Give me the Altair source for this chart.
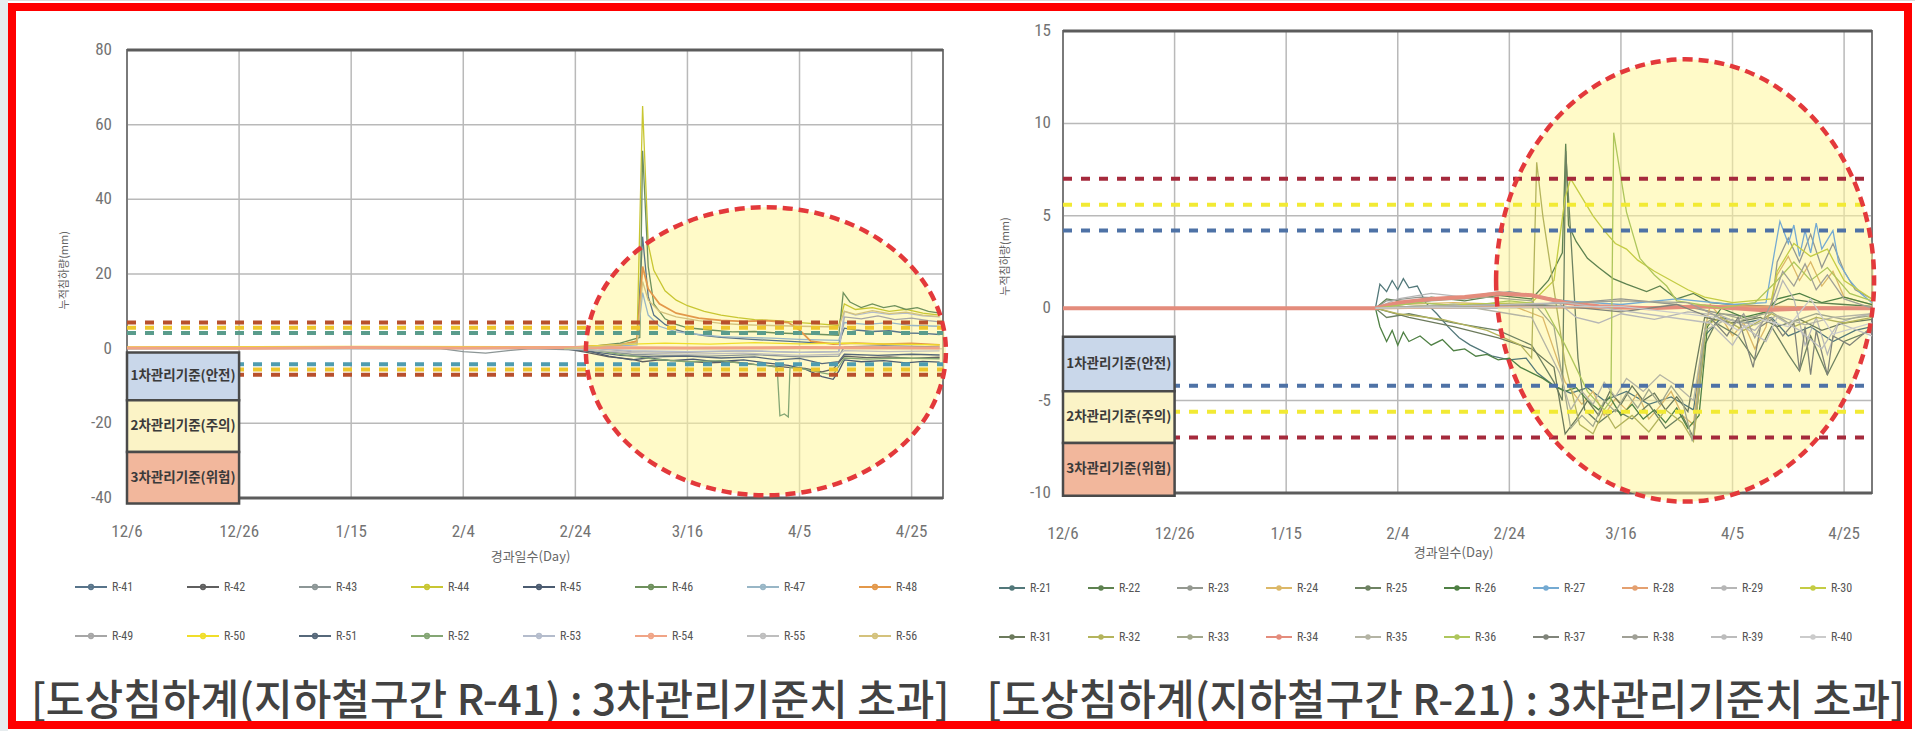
import altair as alt
import pandas as pd

NARROW = "Liberation Sans Narrow, Arial Narrow, Roboto Condensed, DejaVu Sans Condensed, Liberation Sans, sans-serif"
KR = "Noto Sans CJK KR, Noto Sans, sans-serif"

# ---------------- common ----------------
TICK_DAYS = [0, 20, 40, 60, 80, 100, 120, 140]
TICK_LABELS = ["12/6", "12/26", "1/15", "2/4", "2/24", "3/16", "4/5", "4/25"]
BOX_LABELS = ["1차관리기준(안전)", "2차관리기준(주의)", "3차관리기준(위험)"]
BOX_FILLS = ["#c9d7ea", "#fbf3c6", "#f2b79c"]
LIMITS = [7.0, 5.6, 4.2, -4.2, -5.6, -7.0]
X_TITLE = "경과일수(Day)"
Y_TITLE = "누적침하량(mm)"

# ---------------- left panel: R-41 .. R-56 ----------------
L_NAMES = ["R-41", "R-42", "R-43", "R-44", "R-45", "R-46", "R-47", "R-48",
           "R-49", "R-50", "R-51", "R-52", "R-53", "R-54", "R-55", "R-56"]
L_COLORS = ["#58748a", "#5f5f5f", "#8c9696", "#c8c632", "#4b5b70", "#6e905c", "#98b6c6", "#e3984a",
            "#a6a6a6", "#f0de2a", "#56687a", "#84a674", "#b4bccc", "#f0a486", "#bebebe", "#d4c27c"]
R41 = [(78,0),(84,0.6),(88,1.2),(91,1.5),(92,30),(93,14),(94,9),(96,6.5),(98,5),(100,4.2),(103,3.5),(106,3),(110,2.6),(115,2.2),(120,1.8),(124,1.5),(127,1.4),(128,5.5),(130,5),(133,4.6),(136,4.8),(139,4.2),(142,4.1),(145,3.8)]
R42 = [(78,0),(82,-1),(86,-2.2),(90,-2.8),(92,-3.5),(95,-3),(100,-3.4),(104,-3.8),(108,-3.5),(112,-4.2),(115,-4.6),(118,-5),(121,-5.3),(124,-6.2),(126,-5.5),(128,-2),(132,-2.4),(136,-2.2),(140,-2.6),(145,-2.3)]
R43 = [(0,0),(30,0.1),(56,0),(60,-0.8),(64,-1.2),(68,-0.5),(72,0),(84,-0.5),(90,-1.5),(96,-1.8),(104,-2),(112,-1.6),(120,-2.2),(127,-2),(128,0.5),(135,0.8),(145,0.5)]
R44 = [(78,0),(84,0.5),(88,1),(91,2),(92,65),(93,28),(94,21),(96,15.5),(98,13),(100,11.5),(103,10),(106,9),(109,8.3),(112,7.8),(116,7.5),(120,7),(124,6.6),(127,6.2),(128,12),(130,10.5),(133,11),(136,10),(139,10.5),(142,9.5),(145,9)]
R45 = [(78,0),(82,-0.5),(86,-2),(90,-3),(93,-2.5),(97,-3.2),(101,-2.8),(105,-3.5),(110,-3),(114,-3.8),(118,-4.5),(121,-5.5),(124,-7.5),(126,-8.2),(127,-6),(128,-3),(131,-3.5),(135,-3.2),(139,-3.8),(142,-3.4),(145,-3.6)]
R46 = [(78,0),(84,0.8),(88,1.5),(91.5,3),(92,53),(93,22),(94,12),(96,8),(98,6.5),(100,5.6),(104,5),(108,4.5),(112,4.6),(116,4.2),(120,4),(124,3.8),(127,3.6),(127.8,15),(129,12.5),(131,11),(133,12),(135,11),(137,11.5),(139,10.5),(141,11),(143,10),(145,9.5)]
R47 = [(78,0),(84,0.5),(91,1),(92,15),(93,9),(95,6),(98,4.5),(102,3.8),(106,3.2),(110,3),(115,2.8),(120,2.5),(127,2.2),(128,7),(132,6.5),(136,7),(140,6.2),(145,6)]
R48 = [(0,0.3),(40,0.4),(80,0.5),(88,1),(91,2),(92,22),(93,16),(95,12),(98,9.5),(102,8.2),(106,7.6),(110,7.3),(114,7.5),(118,7),(120,5),(122,2),(126,1.2),(130,1.5),(135,1.2),(140,1.4),(145,1)]
R49 = [(78,0),(84,0),(90,-0.8),(100,-1),(110,-0.6),(120,-1),(127,-0.8),(128,8.5),(131,8),(134,8.8),(137,7.8),(140,8.2),(143,7.5),(145,7.2)]
R50 = [(0,0.5),(40,0.6),(80,0.5),(84,0.8),(90,1.2),(96,1.5),(104,1.2),(112,1.6),(120,1.3),(128,1.5),(136,1.2),(145,1)]
R51 = [(78,0),(84,-1),(88,-1.8),(94,-2.2),(100,-2),(106,-2.5),(112,-2.2),(116,-3),(120,-2.6),(124,-4),(127,-3.5),(128,-1.5),(134,-1.8),(140,-1.5),(145,-1.7)]
R52 = [(78,0),(84,-0.5),(88,-1.5),(94,-2.8),(100,-3.5),(106,-3.2),(110,-4),(114,-4.5),(116,-5),(116.5,-18),(117.3,-17.5),(118,-18.3),(118.3,-5),(121,-5.5),(124,-6.5),(126,-7),(128,-2.5),(132,-2.8),(138,-2.5),(145,-2.7)]
R53 = [(78,0),(84,0),(90,-0.5),(100,-0.8),(110,-0.5),(120,-1),(127,-0.8),(128,10),(130,9),(133,9.8),(136,9.2),(139,9.5),(142,8.8),(145,8.5)]
R54 = [(0,0.2),(20,0.1),(40,0.3),(60,0.2),(80,0.3),(100,0.2),(120,0.3),(145,0.2)]
R55 = [(78,0),(84,-0.5),(92,-1.2),(100,-1.5),(110,-1.2),(120,-1.8),(127,-1.5),(128,-0.5),(136,-0.8),(145,-0.6)]
R56 = [(78,0),(84,0.6),(91,1.5),(92,18),(93,13),(95,10),(98,8.5),(102,7.5),(106,6.8),(110,6.4),(115,6.2),(120,6),(127,5.8),(128,10),(130,9.2),(133,10.2),(136,9.4),(139,9.8),(142,9),(145,8.6)]
L_SERIES = [R41, R42, R43, R44, R45, R46, R47, R48, R49, R50, R51, R52, R53, R54, R55, R56]
L_Y_TICKS = [-40, -20, 0, 20, 40, 60, 80]
L_BOX_EDGES = [-1.0, -13.8, -27.7, -41.5]
L_LIMIT_COLORS = ["#b8502c", "#eec62c", "#5a9c8c", "#4f9cb0", "#eec62c", "#b8502c"]
L_ELLIPSE = (114.0, -0.7)

# ---------------- right panel: R-21 .. R-40 ----------------
R_NAMES = ["R-21", "R-22", "R-23", "R-24", "R-25", "R-26", "R-27", "R-28", "R-29", "R-30",
           "R-31", "R-32", "R-33", "R-34", "R-35", "R-36", "R-37", "R-38", "R-39", "R-40"]
R_COLORS = ["#52787a", "#5e8250", "#949890", "#dcb868", "#6e8262", "#4f8044", "#74aad2", "#e4a070", "#b6b6b6", "#c4cc44",
            "#6c7a5c", "#b4b45c", "#a2a88c", "#e48c7c", "#b4b4a4", "#aec65c", "#80847a", "#a0a096", "#bcbcbc", "#cbcbcb"]
R21 = [(56,0),(56.8,1.3),(58,0.9),(59,1.5),(60,1.0),(61,1.6),(62,1.1),(63.5,1.2),(65,0.3),(67,-0.3),(69,-1),(71,-1.6),(73,-2),(75,-2.3),(77,-2.6),(80,-2.8),(83,-2.7),(85,-3.5),(88,-4.2),(91,-4.6),(94,-4.3),(97,-5),(101,-4.5),(105,-5.2),(109,-4.8),(113,-5.5),(115,-1.5),(118,-0.5),(122,-0.8),(127,-0.5),(130,-1.5),(134,-1),(138,-1.8),(142,-1.2),(145,-1)]
R22 = [(56,0),(58,0.5),(62,0.3),(66,0.6),(72,0.4),(78,0.7),(84,0.5),(87,1.5),(89.5,3),(90.1,8.9),(90.6,4.5),(92,3.6),(94,2.7),(96,2.2),(98.6,1.6),(101,1.3),(104.6,0.9),(107,1.2),(110,0.5),(113,0.8),(116,0.3),(120,0.2),(127,0.1),(130,0.5),(135,0.3),(140,0.2),(145,0.1)]
R23 = [(56,0),(58,0.4),(64,0.6),(72,0.5),(80,0.9),(86,0.6),(92,0.3),(100,0.5),(110,0.2),(118,-0.3),(124,-0.5),(127,0),(128,2.5),(130,3.8),(132,2.5),(134,4),(136,2.2),(138,3.5),(140,2),(142,1),(145,0.5)]
R24 = [(56,0),(60,0.2),(70,0.3),(80,0.2),(86,-0.5),(90,-4),(93,-5.2),(95,-4.5),(97,-5.8),(99,-4.9),(101,-5.5),(103,-4.6),(105,-6),(107,-5.3),(109,-4.5),(111,-5.8),(113,-6.3),(114.5,-2),(116,0.2),(118,-0.5),(120,-1.5),(122,-0.8),(124,-2.2),(126,-1),(128,1.8),(130,2.8),(132,1.5),(134,2.5),(136,1.2),(138,2),(140,0.6),(145,0.2)]
R25 = [(56,0),(58,-0.5),(62,-0.3),(70,-0.8),(78,-1.2),(84,-2),(88,-4),(89.5,-5),(90.1,8.5),(91,4),(92.3,-2.7),(93.5,-5.5),(96,-6.2),(99,-5.5),(102,-6),(105,-5.2),(108,-6.5),(111,-5.8),(113,-7),(115,-2),(117,-0.8),(121,-1.5),(124,-2.8),(127,-1),(130,-2.5),(132,-3.4),(134,-1.5),(137,-3.6),(140,-1.8),(145,-1.2)]
R26 = [(56,0),(56.8,-1),(58,-1.8),(59,-1.2),(60,-2),(61,-1.3),(62,-1.8),(64,-1.5),(66,-2),(68,-1.7),(70,-2.3),(72,-2.2),(74,-2.6),(76,-2.5),(78,-2.8),(80,-2.7),(82,-3.2),(84,-3.5),(86,-3.8),(88,-4.2),(90,-4.5),(92,-4.3),(94,-5),(96,-5.5),(98,-4.8),(100,-5.8),(102,-5.2),(104,-6),(106,-5.5),(108,-6.2),(110,-5.4),(112,-6.5),(114,-5.8),(115.5,-1),(118,0),(122,-0.5),(126,-0.2),(128,0.5),(132,0.8),(136,0.3),(140,0.6),(145,0.2)]
R27 = [(56,0),(70,0.2),(84,0.1),(90,0.4),(100,0.2),(110,0.5),(120,0.2),(126,0.3),(127.5,3),(128.5,4.7),(130,3.5),(131,4.5),(132,2.8),(133,4.2),(134,3),(135,4.6),(136,3.2),(138,4.2),(139,2.5),(141,1.5),(143,0.8),(145,0.3)]
R28 = [(0,0),(30,0),(56,0),(80,0.1),(100,0),(120,0.1),(145,0)]
R29 = [(56,0),(60,0.5),(66,0.8),(72,0.6),(78,0.9),(84,0.7),(88,0.5),(92,-0.5),(96,-0.8),(100,-0.3),(106,-0.6),(112,-0.2),(118,-0.4),(124,-1.2),(127,-0.2),(129,1.5),(131,0.5),(133,-2),(135,-0.5),(137,-2.5),(139,-0.8),(142,-0.5),(145,-0.3)]
R30 = [(56,0),(70,0.2),(84,0.3),(88,1.5),(90,6),(91,7),(93,6),(95,5),(97,4.2),(99,3.5),(101,3.2),(103,2.6),(106,2),(109,1.5),(112,1),(115,0.6),(120,0.3),(127,0.5),(128,2),(131,3.5),(134,2.8),(137,3.2),(140,1.5),(145,0.5)]
R31 = [(56,0),(62,-0.5),(70,-1),(78,-1.6),(84,-2.2),(88,-3.2),(90,-6.8),(92,-6),(94,-5),(96,-5.8),(98,-4.5),(100,-5.2),(102,-4.2),(104,-5),(106,-4.6),(108,-5.5),(110,-4.8),(112,-5.6),(113.5,-3),(115,-0.5),(120,-0.8),(125,-0.5),(128,-1),(132,-0.6),(136,-1.2),(140,-0.8),(145,-0.6)]
R32 = [(56,0),(60,-0.3),(68,-0.6),(76,-1.2),(82,-2),(84,-2.7),(84.9,7.9),(86,5),(88,1),(90,-3),(92.6,-6.3),(95,-6.8),(97,-5.5),(99,-6.5),(102,-5.8),(105,-6.7),(108,-5.5),(111,-6.2),(113,-7.2),(115.3,-0.9),(118,-0.5),(122,-1.2),(127,-0.3),(131,-1),(135,-0.5),(140,-0.8),(145,-0.5)]
R33 = [(56,0),(66,0.4),(76,0.6),(84,0.4),(88,-1),(91,-6.5),(93,-5.8),(95,-6.4),(97,-5),(99,-5.6),(101,-4.6),(103,-5.4),(105,-4.4),(107,-5.2),(109,-4.2),(111,-5),(112.8,-7.2),(114,-4),(115.2,-0.8),(118,-0.3),(122,-0.6),(127,-0.2),(130,-0.8),(135,-0.3),(140,-0.6),(145,-0.4)]
R34 = [(0,0),(56,0),(60,0.3),(66,0.5),(72,0.6),(78,0.8),(84,0.7),(90,0.3),(96,0.1),(105,0),(115,0.1),(125,-0.1),(135,0),(145,0)]
R35 = [(56,0),(70,0.2),(84,-0.5),(89,-3.5),(91,-5.5),(93,-4.5),(95,-5.2),(97,-4),(99,-4.8),(101,-3.8),(104,-4.5),(107,-3.6),(110,-4.2),(113,-5),(115,-1.2),(119,-0.6),(124,-0.9),(128,-0.4),(133,-0.9),(138,-0.5),(145,-0.3)]
R36 = [(56,0),(64,0.3),(72,0.1),(80,0.4),(86,0.2),(90,-2),(94,-4.5),(97,-5.5),(98.2,-5),(98.7,9.5),(101,5.2),(103.4,2.7),(106,1.8),(108.2,1.2),(110,0.4),(114,0.2),(118,0),(124,0.3),(128,1.5),(131,2.5),(134,1.5),(137,2.2),(141,0.8),(145,0.4)]
R37 = [(56,0),(80,0.2),(90,0.1),(100,-0.2),(110,0.2),(116,-0.5),(119,-1.5),(121,-0.5),(123.7,-3.2),(125,-1),(127,-0.6),(129,-1.5),(131,-0.8),(132,-3.4),(133,-1),(134,-3.6),(135,-1.2),(137,-3.6),(138,-1.5),(141,-2),(145,-1)]
R38 = [(56,0),(84,0.2),(100,0.4),(112,0.3),(117,-0.4),(120,-1),(122,-0.3),(124,-1.6),(127,0.3),(129,2),(131,1.2),(133,2.4),(135,1),(137,1.8),(140,0.5),(145,0)]
R39 = [(56,0),(90,0.3),(116,-0.8),(120,-2),(122,-1),(126,-1.8),(128,-0.5),(132,-1.2),(136,-2.2),(139,-0.8),(145,-1.5)]
R40 = [(56,0),(100,0.1),(117,-0.5),(121,-1.2),(125,-0.6),(130,-1),(134,0.5),(138,-1.4),(145,-0.8)]
R_SERIES = [R21, R22, R23, R24, R25, R26, R27, R28, R29, R30, R31, R32, R33, R34, R35, R36, R37, R38, R39, R40]
R_Y_TICKS = [-10, -5, 0, 5, 10, 15]
R_BOX_EDGES = [-1.55, -4.5, -7.3, -10.15]
R_LIMIT_COLORS = ["#a52a3c", "#f2ea34", "#4e72a6", "#4e72a6", "#f2ea34", "#a52a3c"]
R_ELLIPSE = (111.5, 1.5)

THICK = {"R-54": 3.0, "R-48": 1.8, "R-34": 4.0, "R-28": 2.5}
LEGEND_SYMBOL = "M -1 0 L 1 0 M -0.14 0 A 0.14 0.14 0 1 1 0.14 0 A 0.14 0.14 0 1 1 -0.14 0"


def long_df(names, series):
    rows = []
    for n, s in zip(names, series):
        for d, v in s:
            rows.append({"series": n, "day": d, "value": v, "w": THICK.get(n, 1.3)})
    return pd.DataFrame(rows)


def panel(P):
    X, Y = P["x"], P["y"]
    x0, x1 = P["xdom"]
    y0, y1 = P["ydom"]

    def enc(xf, yf, **kw):
        return dict(x=alt.X(xf, scale=X, axis=None), y=alt.Y(yf, scale=Y, axis=None), **kw)

    layers = []
    vg = pd.DataFrame({"d": TICK_DAYS, "lo": y0, "hi": y1})
    layers.append(alt.Chart(vg).mark_rule(color="#b9b9b9", strokeWidth=1.5).encode(**enc("d:Q", "lo:Q", y2="hi:Q")))
    hg = pd.DataFrame({"v": P["yticks"], "lo": x0, "hi": x1})
    layers.append(alt.Chart(hg).mark_rule(color="#b9b9b9", strokeWidth=1.5).encode(**enc("lo:Q", "v:Q", x2="hi:Q")))
    fr = pd.DataFrame({"a": [x0], "b": [x1], "c": [y0], "e": [y1]})
    layers.append(alt.Chart(fr).mark_rect(fillOpacity=0, stroke="#7a7a7a", strokeWidth=2).encode(**enc("a:Q", "c:Q", x2="b:Q", y2="e:Q")))
    tb = pd.DataFrame({"v": [y0, y1], "lo": x0, "hi": x1})
    layers.append(alt.Chart(tb).mark_rule(color="#5c5c5c", strokeWidth=3).encode(**enc("lo:Q", "v:Q", x2="hi:Q")))

    el = pd.DataFrame({"d": [P["ell"][0]], "v": [P["ell"][1]]})
    layers.append(alt.Chart(el).mark_point(shape=P["ellpath"], size=P["ellsize"], filled=True,
                                           color="#fff59a", opacity=0.55, strokeWidth=0).encode(**enc("d:Q", "v:Q")))

    df = long_df(P["names"], P["series"])
    leg = alt.Legend(orient="none", legendX=P["legx"], legendY=P["legy"], direction="horizontal",
                     columns=P["legcols"], symbolType=LEGEND_SYMBOL, symbolSize=P["symsize"],
                     symbolStrokeWidth=1.8, labelFont=NARROW, labelFontSize=12, labelColor="#555555",
                     columnPadding=P["colpad"], rowPadding=P["rowpad"], title=None, padding=0, labelOffset=4)
    layers.append(alt.Chart(df).mark_line().encode(
        **enc("day:Q", "value:Q",
              color=alt.Color("series:N", scale=alt.Scale(domain=P["names"], range=P["colors"]), legend=leg),
              strokeWidth=alt.StrokeWidth("w:Q", scale=None, legend=None),
              order="day:Q")))

    lim = pd.DataFrame({"v": LIMITS, "c": P["limcolors"], "lo": x0, "hi": x1})
    layers.append(alt.Chart(lim).mark_rule(strokeWidth=4, strokeDash=[9, 9]).encode(
        **enc("lo:Q", "v:Q", x2="hi:Q", color=alt.Color("c:N", scale=None))))

    layers.append(alt.Chart(el).mark_point(shape=P["ellpath"], size=P["ellsize"], filled=False,
                                           color="#e3393b", opacity=1, strokeWidth=4.5,
                                           strokeDash=[10, 6]).encode(**enc("d:Q", "v:Q")))

    e = P["boxes"]
    bx = pd.DataFrame({"x0": TICK_DAYS[0], "x1": TICK_DAYS[1], "top": e[:-1], "bot": e[1:],
                       "f": BOX_FILLS, "t": BOX_LABELS})
    layers.append(alt.Chart(bx).mark_rect(stroke="#4a4a4a", strokeWidth=2.5).encode(
        **enc("x0:Q", "top:Q", x2="x1:Q", y2="bot:Q", color=alt.Color("f:N", scale=None))))
    layers.append(alt.Chart(bx).transform_calculate(xm="(datum.x0+datum.x1)/2", ym="(datum.top+datum.bot)/2")
                  .mark_text(font=KR, fontSize=13.5, fontWeight="bold", color="#3a3a3a")
                  .encode(**enc("xm:Q", "ym:Q", text="t:N")))

    xl = pd.DataFrame({"d": TICK_DAYS, "t": TICK_LABELS, "b": y0})
    layers.append(alt.Chart(xl).mark_text(font=NARROW, fontSize=17, color="#737373", dy=P["xlabdy"])
                  .encode(**enc("d:Q", "b:Q", text="t:N")))
    yl = pd.DataFrame({"v": P["yticks"], "t": [str(v) for v in P["yticks"]], "b": x0})
    layers.append(alt.Chart(yl).mark_text(font=NARROW, fontSize=17, color="#737373", align="right", dx=P["ylabdx"])
                  .encode(**enc("b:Q", "v:Q", text="t:N")))

    xt = pd.DataFrame({"d": [P["xtitle_day"]], "v": [y0], "t": [X_TITLE]})
    layers.append(alt.Chart(xt).mark_text(font=KR, fontSize=13, color="#666666", dy=P["xtitledy"])
                  .encode(**enc("d:Q", "v:Q", text="t:N")))
    yt = pd.DataFrame({"d": [x0], "v": [P["ytitle_v"]], "t": [Y_TITLE]})
    layers.append(alt.Chart(yt).mark_text(font=KR, fontSize=11, color="#666666", angle=270, dy=P["ytitledy"])
                  .encode(**enc("d:Q", "v:Q", text="t:N")))

    cp = pd.DataFrame({"d": [P["cap_day"]], "v": [y0], "t": [P["caption"]]})
    layers.append(alt.Chart(cp).mark_text(font=KR, fontSize=42, fontWeight=500, color="#424242", dy=P["capdy"])
                  .encode(**enc("d:Q", "v:Q", text="t:N")))
    return layers


LEFT = dict(
    x=alt.Scale(domain=[0, 145.6], range=[127, 943], nice=False, zero=False),
    y=alt.Scale(domain=[-40, 80], range=[498, 50], nice=False, zero=False),
    xdom=(0, 145.6), ydom=(-40, 80), yticks=L_Y_TICKS,
    ell=L_ELLIPSE, ellpath="M -1 0 A 1 0.8 0 1 1 1 0 A 1 0.8 0 1 1 -1 0 Z", ellsize=360 * 360,
    names=L_NAMES, colors=L_COLORS, series=L_SERIES,
    legx=74, legy=570, legcols=8, symsize=32 * 32, colpad=49, rowpad=26,
    limcolors=L_LIMIT_COLORS, boxes=L_BOX_EDGES,
    xlabdy=34, ylabdx=-15, xtitle_day=72, xtitledy=59, ytitle_v=21, ytitledy=-62,
    cap_day=64.8, capdy=204, caption="[도상침하계(지하철구간 R-41) : 3차관리기준치 초과]",
)
RIGHT = dict(
    x=alt.Scale(domain=[0, 145], range=[1063, 1872], nice=False, zero=False),
    y=alt.Scale(domain=[-10, 15], range=[493, 31], nice=False, zero=False),
    xdom=(0, 145), ydom=(-10, 15), yticks=R_Y_TICKS,
    ell=R_ELLIPSE, ellpath="M -1 0 A 1 1.17 0 1 1 1 0 A 1 1.17 0 1 1 -1 0 Z", ellsize=378 * 378,
    names=R_NAMES, colors=R_COLORS, series=R_SERIES,
    legx=998, legy=574, legcols=10, symsize=26 * 26, colpad=32, rowpad=29,
    limcolors=R_LIMIT_COLORS, boxes=R_BOX_EDGES,
    xlabdy=41, ylabdx=-12, xtitle_day=70, xtitledy=60, ytitle_v=2.8, ytitledy=-57,
    cap_day=68.6, capdy=209, caption="[도상침하계(지하철구간 R-21) : 3차관리기준치 초과]",
)

frame = alt.Chart(pd.DataFrame({"k": [0]})).mark_rect(fillOpacity=0, stroke="#ff0000", strokeWidth=8).encode(
    x=alt.value(12), x2=alt.value(1908), y=alt.value(7), y2=alt.value(725))
strip = alt.Chart(pd.DataFrame({"k": [0]})).mark_rect(color="#e6ecee").encode(
    x=alt.value(0), x2=alt.value(8), y=alt.value(0), y2=alt.value(731))

layers = panel(LEFT) + panel(RIGHT) + [strip, frame]

chart = alt.layer(*layers).resolve_scale(
    x="independent", y="independent", color="independent", strokeWidth="independent"
).properties(
    width=1915, height=731, padding=0, autosize=alt.AutoSizeParams(type="none")
).configure_view(stroke=None).configure(background="white")

chart.save("out.html", embed_options={"renderer": "svg", "actions": False})
